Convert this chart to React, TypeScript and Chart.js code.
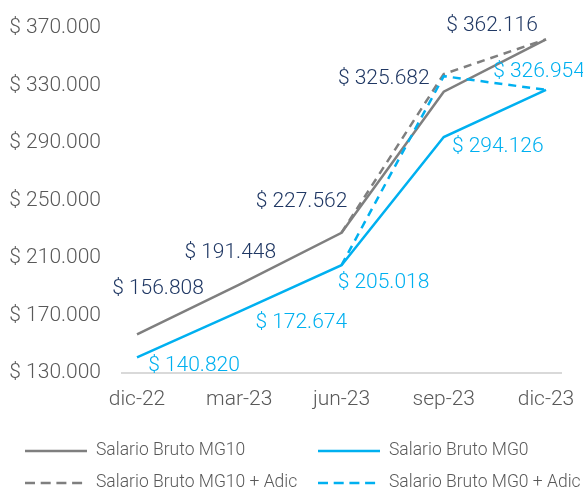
import React, { useEffect, useRef } from "react";
import { Chart, registerables } from "chart.js";

Chart.register(...registerables);

const categories = ["dic-22", "mar-23", "jun-23", "sep-23", "dic-23"];
const mg10 = [156808, 191448, 227562, 325682, 362116];
const mg0 = [140820, 172674, 205018, 294126, 326954];
const mg10Adic = [null, null, 227562, 338000, 362116];
const mg0Adic = [null, null, 205018, 336500, 326954];
const seriesNames = [
  "Salario Bruto MG10",
  "Salario Bruto MG0",
  "Salario Bruto MG10 + Adic",
  "Salario Bruto MG0 + Adic",
];
const yMin = 130000;
const yMax = 370000;
const yStep = 40000;

// label placement offsets (px) relative to each point
const mg10LabelOffsets = [[21, -46], [-9, -32], [-40, -31], [-60, -13], [-54, -14]];
const mg0LabelOffsets = [[57, 8], [62, 11], [42, 18], [54, 10], [-7, -18]];

const GRAY = "#7f7f7f";
const CYAN = "#00b0f0";
const NAVY = "#203864";
const AXIS_TEXT = "#595959";
const FONT = "Roboto";
const PLOT_TOP = 28;
const PLOT_BOTTOM = 373;

const fmt = (n: number) =>
  "$ " + Math.round(n).toString().replace(/\B(?=(\d{3})+(?!\d))/g, ".");

export default function App() {
  const ref = useRef<HTMLCanvasElement | null>(null);

  useEffect(() => {
    document.body.style.margin = "0";
    const canvas = ref.current!;
    const labelPlugin = {
      id: "valueLabels",
      afterDatasetsDraw(chart: any) {
        const ctx = chart.ctx;
        ctx.save();
        ctx.font = `300 21px ${FONT}`;
        ctx.textAlign = "center";
        ctx.textBaseline = "middle";
        const specs = [
          { idx: 0, color: NAVY, offs: mg10LabelOffsets, vals: mg10 },
          { idx: 1, color: CYAN, offs: mg0LabelOffsets, vals: mg0 },
        ];
        specs.forEach((s) => {
          const meta = chart.getDatasetMeta(s.idx);
          meta.data.forEach((pt: any, i: number) => {
            ctx.fillStyle = s.color;
            ctx.fillText(fmt(s.vals[i]), pt.x + s.offs[i][0], pt.y + s.offs[i][1]);
          });
        });
        ctx.restore();
      },
    };
    const baselinePlugin = {
      id: "baseline",
      beforeDatasetsDraw(chart: any) {
        const { ctx, chartArea } = chart;
        ctx.save();
        ctx.strokeStyle = "#d9d9d9";
        ctx.lineWidth = 2;
        ctx.beginPath();
        ctx.moveTo(chartArea.left - 16, chartArea.bottom);
        ctx.lineTo(chartArea.right + 16, chartArea.bottom);
        ctx.stroke();
        ctx.restore();
      },
    };
    const legendPlugin = {
      id: "customLegend",
      afterDraw(chart: any) {
        const ctx = chart.ctx;
        ctx.save();
        ctx.font = `300 17.5px ${FONT}`;
        ctx.textBaseline = "middle";
        ctx.textAlign = "left";
        const cols = [25, 318];
        const rows = [451, 483];
        chart.data.datasets.forEach((ds: any, i: number) => {
          const x = cols[i % 2];
          const y = rows[Math.floor(i / 2)];
          ctx.strokeStyle = ds.borderColor;
          ctx.lineWidth = ds.borderWidth;
          ctx.setLineDash(ds.borderDash ? [10, 5.7] : []);
          ctx.beginPath();
          ctx.moveTo(x, y);
          ctx.lineTo(x + 62, y);
          ctx.stroke();
          ctx.setLineDash([]);
          ctx.fillStyle = AXIS_TEXT;
          ctx.fillText(ds.label, x + 71, y);
        });
        ctx.restore();
      },
    };

    const chart = new Chart(canvas, {
      type: "line",
      data: {
        labels: categories,
        datasets: [
          { label: seriesNames[0], data: mg10, borderColor: GRAY, borderWidth: 2.5, pointRadius: 0, order: 4 },
          { label: seriesNames[1], data: mg0, borderColor: CYAN, borderWidth: 2.5, pointRadius: 0, order: 3 },
          { label: seriesNames[2], data: mg10Adic as any, borderColor: GRAY, borderWidth: 2.5, borderDash: [8, 6], pointRadius: 0, order: 2 },
          { label: seriesNames[3], data: mg0Adic as any, borderColor: CYAN, borderWidth: 2.5, borderDash: [8, 6], pointRadius: 0, order: 1 },
        ],
      },
      options: {
        animation: false,
        responsive: false,
        layout: { padding: { top: 0, right: 37, left: 0, bottom: 0 } },
        plugins: { legend: { display: false }, tooltip: { enabled: false } },
        scales: {
          x: {
            offset: false,
            grid: { display: false, drawTicks: false },
            border: { display: false },
            ticks: { color: AXIS_TEXT, font: { family: FONT, size: 21, weight: "300" as any }, padding: 14, maxRotation: 0 },
            afterFit: (s: any) => { s.height = 490 - PLOT_BOTTOM; s.paddingLeft = 0; s.paddingRight = 0; },
          },
          y: {
            min: yMin,
            max: yMax,
            grid: { display: false, drawTicks: false },
            border: { display: false },
            ticks: {
              stepSize: yStep,
              color: AXIS_TEXT,
              font: { family: FONT, size: 21, weight: "300" as any },
              padding: 36,
              callback: (v: any) => fmt(Number(v)),
            },
            afterFit: (s: any) => { s.width = 137; s.paddingTop = 0; s.paddingBottom = 0; },
          },
        },
      },
      plugins: [baselinePlugin, labelPlugin, legendPlugin],
    });
    // adjust padding so the plot area spans PLOT_TOP..PLOT_BOTTOM and ends at x=546
    const pad = chart.options.layout as any;
    for (let k = 0; k < 2; k++) {
      const dTop = PLOT_TOP - chart.chartArea.top;
      const dRight = chart.chartArea.right - 546;
      if (Math.abs(dTop) <= 0.5 && Math.abs(dRight) <= 0.5) break;
      pad.padding.top = Math.max(0, pad.padding.top + dTop);
      pad.padding.right = Math.max(0, pad.padding.right + dRight);
      chart.update();
    }
    return () => chart.destroy();
  }, []);

  return (
    <div style={{ position: "absolute", left: 0, top: 0, width: 583, height: 490 }}>
      <canvas ref={ref} width={583} height={490} style={{ width: 583, height: 490 }} />
    </div>
  );
}
